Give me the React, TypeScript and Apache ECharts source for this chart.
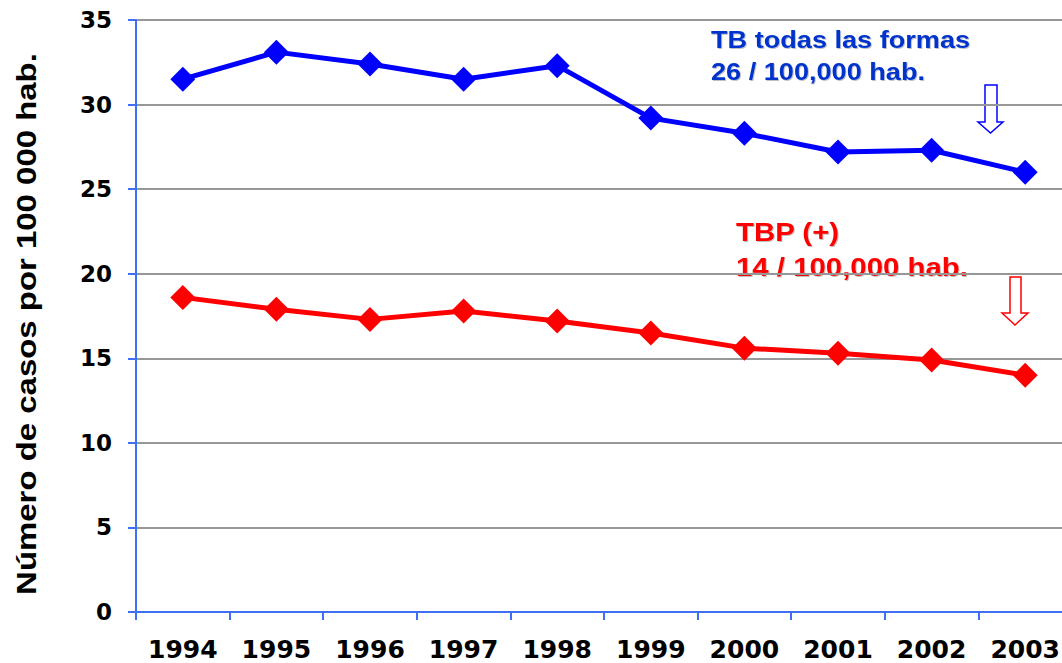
import React, { useEffect, useRef } from "react";
import * as echarts from "echarts";

const years = ["1994", "1995", "1996", "1997", "1998", "1999", "2000", "2001", "2002", "2003"];
const tbTodas = [31.5, 33.1, 32.4, 31.5, 32.3, 29.2, 28.3, 27.2, 27.3, 26.0];
const tbpPos = [18.6, 17.9, 17.3, 17.8, 17.2, 16.5, 15.6, 15.3, 14.9, 14.0];
const yTitle = "Número de casos por 100 000 hab.";
const blueLabel = ["TB todas las formas", "26 / 100,000 hab."];
const redLabel = ["TBP (+)", "14 / 100,000 hab."];

const AXIS_BLUE = "#3F6FF2";
const ARIAL = "Liberation Sans, Arial, sans-serif";
const VERDANA = "DejaVu Sans, Verdana, sans-serif";

export default function App() {
  const ref = useRef<HTMLDivElement>(null);
  useEffect(() => {
    if (!ref.current) return;
    const chart = echarts.init(ref.current, null, { renderer: "svg" });
    const shadow = {
      textShadowColor: "rgba(0,0,0,0.25)",
      textShadowOffsetX: 1,
      textShadowOffsetY: 1,
      textShadowBlur: 1,
    };
    const annot = (text: string, x: number, y: number, size: number, color: string) => ({
      type: "text",
      x,
      y,
      scaleX: 1.13,
      silent: true,
      style: {
        text,
        fill: color,
        fontFamily: ARIAL,
        fontWeight: "bold",
        fontSize: size,
        align: "left",
        verticalAlign: "middle",
        ...shadow,
      },
    });
    const arrow = (l: number, r: number, sl: number, sr: number, top: number, sb: number, tip: number, color: string) => ({
      type: "polygon",
      silent: true,
      shape: {
        points: [
          [sl, top],
          [sr, top],
          [sr, sb],
          [r, sb],
          [(l + r) / 2, tip],
          [l, sb],
          [sl, sb],
        ],
      },
      style: { fill: "#ffffff", stroke: color, lineWidth: 1.5 },
    });
    chart.setOption({
      animation: false,
      backgroundColor: "#ffffff",
      grid: { left: 136, right: 0, top: 20, bottom: 51, containLabel: false },
      xAxis: {
        type: "category",
        data: years,
        boundaryGap: true,
        axisLine: { show: true, lineStyle: { color: AXIS_BLUE, width: 2 } },
        axisTick: { show: true, length: 8, lineStyle: { color: AXIS_BLUE, width: 2 } },
        axisLabel: {
          margin: 25,
          color: "#000",
          fontSize: 25,
          fontWeight: "bold",
          fontFamily: VERDANA,
        },
        splitLine: { show: false },
      },
      yAxis: {
        type: "value",
        min: 0,
        max: 35,
        interval: 5,
        axisLine: { show: true, lineStyle: { color: AXIS_BLUE, width: 2 } },
        axisTick: { show: true, length: 8, lineStyle: { color: AXIS_BLUE, width: 2 } },
        axisLabel: {
          margin: 24,
          color: "#000",
          fontSize: 23,
          fontWeight: "bold",
          fontFamily: VERDANA,
        },
        splitLine: { show: true, lineStyle: { color: "#979797", width: 2 } },
      },
      series: [
        {
          name: blueLabel[0],
          type: "line",
          data: tbTodas,
          symbol: "diamond",
          symbolSize: 25,
          lineStyle: { color: "#0000FF", width: 5 },
          itemStyle: { color: "#0000FF" },
        },
        {
          name: redLabel[0],
          type: "line",
          data: tbpPos,
          symbol: "diamond",
          symbolSize: 25,
          lineStyle: { color: "#FF0000", width: 5 },
          itemStyle: { color: "#FF0000" },
        },
      ],
      graphic: [
        {
          type: "text",
          x: 27,
          y: 324,
          rotation: Math.PI / 2,
          scaleX: 1.22,
          silent: true,
          style: {
            text: yTitle,
            fill: "#000",
            fontFamily: ARIAL,
            fontWeight: "bold",
            fontSize: 27,
            align: "center",
            verticalAlign: "middle",
          },
        },
        annot(blueLabel[0], 711, 40, 24, "#0033CC"),
        annot(blueLabel[1], 711, 71.5, 24, "#0033CC"),
        annot(redLabel[0], 736, 232, 26, "#FF0000"),
        annot(redLabel[1], 736, 267, 26, "#FF0000"),
        arrow(978, 1003, 985, 997, 85, 122, 133, "#0000FF"),
        arrow(1002, 1028, 1010, 1021, 277, 313, 325, "#FF0000"),
      ],
    });
    return () => chart.dispose();
  }, []);
  return (
    <div style={{ position: "fixed", left: 0, top: 0, width: 1062, height: 663, overflow: "hidden", background: "#fff" }}>
      <div ref={ref} style={{ position: "absolute", left: 0, top: 0, width: 1072, height: 663 }} />
    </div>
  );
}
